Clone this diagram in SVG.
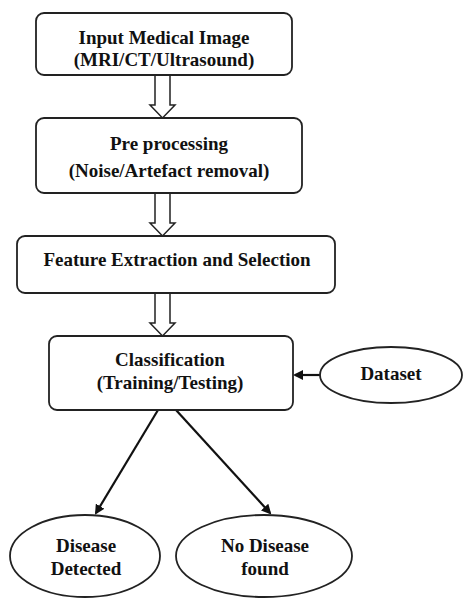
<svg xmlns="http://www.w3.org/2000/svg" width="463" height="603" viewBox="0 0 463 603">
<style>
.box{fill:#fff;stroke:#222;stroke-width:1.8}
.t{font-family:"Liberation Serif","Times New Roman",serif;font-weight:bold;font-size:19px;fill:#111;text-anchor:middle}
.ha{fill:#fff;stroke:#222;stroke-width:1.5;stroke-linejoin:miter}
.ln{stroke:#111;stroke-width:2.2;fill:none}
</style>
<defs>
<marker id="ah" markerWidth="10" markerHeight="10" refX="8" refY="5" orient="auto" markerUnits="userSpaceOnUse">
<path d="M0,0 L10,5 L0,10 z" fill="#111"/>
</marker>
</defs>
<rect width="463" height="603" fill="#fff"/>
<g id="connectors">
<path class="ha" d="M155,75 V105 H150 L162.5,118 L175,105 H170 V75"/>
<path class="ha" d="M155,193 V223 H150 L162.5,236 L175,223 H170 V193"/>
<path class="ha" d="M155,293 V323 H150 L162.5,336 L175,323 H170 V293"/>
<line class="ln" x1="320" y1="375" x2="295" y2="375" marker-end="url(#ah)"/>
<line class="ln" x1="158" y1="410" x2="96" y2="513" marker-end="url(#ah)"/>
<line class="ln" x1="176" y1="410" x2="270" y2="513" marker-end="url(#ah)"/>
</g>
<g id="input">
<rect class="box" x="36" y="13" width="256" height="62" rx="8"/>
<text class="t" x="164" y="44">Input Medical Image</text>
<text class="t" x="164" y="66">(MRI/CT/Ultrasound)</text>
</g>
<g id="preprocessing">
<rect class="box" x="36" y="118" width="266" height="75" rx="8"/>
<text class="t" x="169" y="150">Pre processing</text>
<text class="t" x="169" y="177">(Noise/Artefact removal)</text>
</g>
<g id="feature">
<rect class="box" x="17" y="236" width="318" height="57" rx="8"/>
<text class="t" x="177" y="266">Feature Extraction and Selection</text>
</g>
<g id="classification">
<rect class="box" x="49" y="336" width="244" height="74" rx="8"/>
<text class="t" x="170" y="366">Classification</text>
<text class="t" x="170" y="389">(Training/Testing)</text>
</g>
<g id="dataset">
<ellipse class="box" cx="391" cy="375" rx="71" ry="28"/>
<text class="t" x="391" y="380">Dataset</text>
</g>
<g id="detected">
<ellipse class="box" cx="85" cy="556" rx="75" ry="41"/>
<text class="t" x="86" y="552">Disease</text>
<text class="t" x="86" y="575">Detected</text>
</g>
<g id="nodisease">
<ellipse class="box" cx="264" cy="556" rx="88" ry="41"/>
<text class="t" x="265" y="552">No Disease</text>
<text class="t" x="265" y="575">found</text>
</g>
</svg>
